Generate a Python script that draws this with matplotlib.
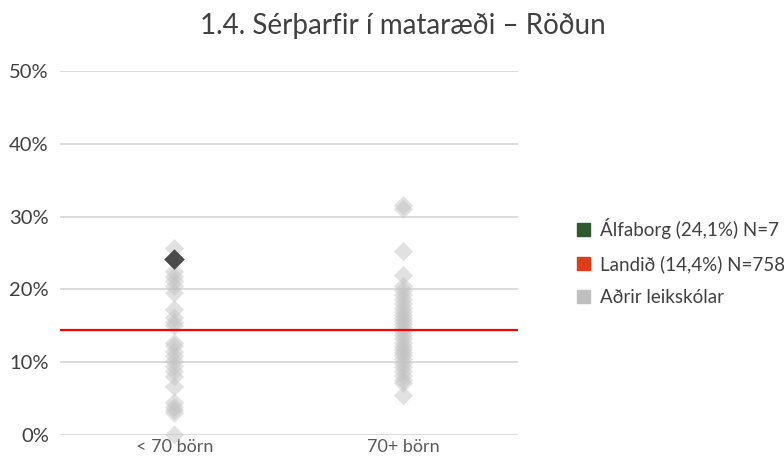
import matplotlib
matplotlib.use("Agg")
import matplotlib.pyplot as plt
from matplotlib.patches import Patch
import numpy as np

plt.rcParams['font.family'] = ['Lato', 'DejaVu Sans']

title = "1.4. Sérþarfir í mataræði – Röðun"
categories = ["< 70 börn", "70+ börn"]
yticks = [0, 10, 20, 30, 40, 50]

# Other preschools (%), per group
small_vals = [25.6, 22.4, 21.7, 21.1, 20.4, 19.5, 17.2, 16.1, 15.4, 15.0, 12.6, 12.2,
              11.4, 10.8, 10.1, 9.4, 8.7, 8.0, 6.6, 4.4, 3.8, 3.4, 3.0, 0.0]
large_vals = [31.5, 31.0, 25.2, 21.9, 20.4, 19.8, 19.2, 18.6, 18.0, 17.4, 16.9, 16.4,
              16.0, 15.6, 15.2, 14.7, 14.2, 13.7, 13.2, 12.6, 12.1, 11.7, 11.3, 10.9,
              10.4, 9.8, 9.3, 8.7, 8.1, 7.5, 7.1, 5.4]
school_name = "Álfaborg"
school_val = 24.1
school_cat = 0
school_n = 7
national_val = 14.4
national_n = 758

fig = plt.figure(figsize=(7.84, 4.61), dpi=100)
ax = fig.add_axes([60/784, 26/461, 458/784, 364/461])

for yv in yticks:
    ax.axhline(yv / 100, color="#d9d9d9", lw=1.3, zorder=0)

light = "#c4c4c4"
ax.scatter(np.zeros(len(small_vals)), np.array(small_vals) / 100, marker="D", s=95,
           color=light, alpha=0.5, edgecolors="none", zorder=2, clip_on=False)
ax.scatter(np.ones(len(large_vals)), np.array(large_vals) / 100, marker="D", s=95,
           color=light, alpha=0.5, edgecolors="none", zorder=2, clip_on=False)
ax.axhline(national_val / 100, color="#ff0000", lw=1.6, zorder=3)
ax.scatter([school_cat], [school_val / 100], marker="D", s=110, color="#4a4a4a",
           edgecolors="none", zorder=4)

ax.set_xlim(-0.5, 1.5)
ax.set_ylim(0, 0.5)
ax.set_yticks([v / 100 for v in yticks])
ax.set_yticklabels([f"{v}%" for v in yticks], fontsize=14.5, color="#404040")
ax.set_xticks([0, 1])
ax.set_xticklabels(categories, fontsize=13, color="#595959")
ax.tick_params(axis="both", length=0)
ax.tick_params(axis="y", pad=8)
ax.tick_params(axis="x", pad=3)
for s in ax.spines.values():
    s.set_visible(False)

fig.text(403/784, 1 - 26/461, title, ha="center", va="center", fontsize=20,
         color="#404040")

handles = [Patch(color="#2e5a2e", label=f"{school_name} ({str(school_val).replace('.', ',')}%) N={school_n}"),
           Patch(color="#e03c1a", label=f"Landið ({str(national_val).replace('.', ',')}%) N={national_n}"),
           Patch(color="#bfbfbf", label="Aðrir leikskólar")]
leg = fig.legend(handles=handles, loc="center left", bbox_to_anchor=(560/784, 1 - 262/461),
                 frameon=False, prop={'size': 13.5}, handlelength=0.72,
                 handleheight=0.72, handletextpad=0.5, labelspacing=0.85, labelcolor="#404040")

fig.savefig("out.png", dpi=100)
